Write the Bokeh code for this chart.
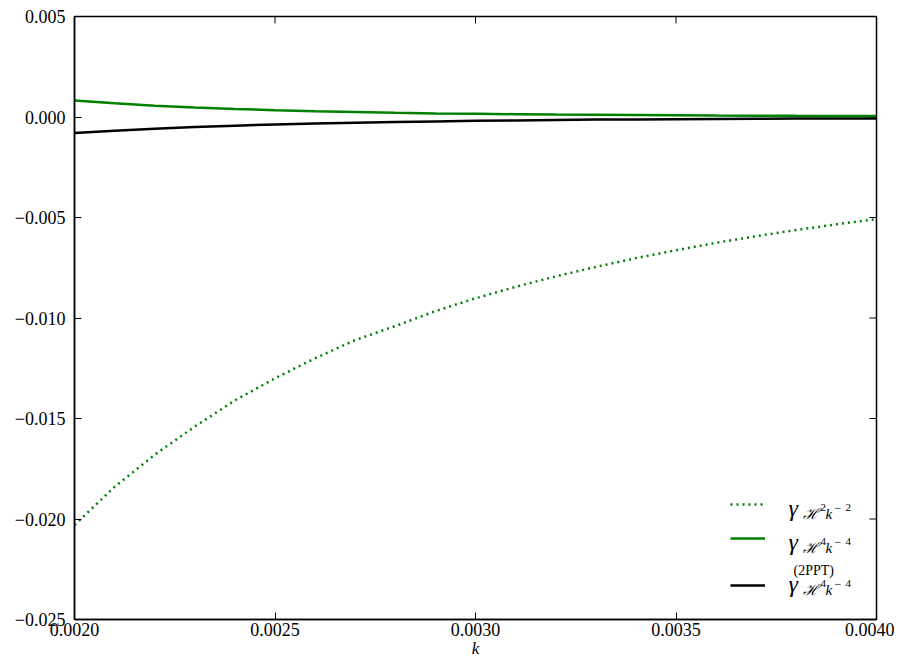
import math
from bokeh.plotting import figure
from bokeh.models import (Legend, LegendItem, Label, FixedTicker,
                          CustomJSTickFormatter, Range1d)
from bokeh.embed import file_html
from bokeh.resources import INLINE

# ---- data ----
k = [0.0020, 0.0021, 0.0022, 0.0023, 0.0024, 0.0025, 0.0026, 0.0027, 0.0028,
     0.0029, 0.0030, 0.0031, 0.0032, 0.0033, 0.0034, 0.0035, 0.0036, 0.0037,
     0.0038, 0.0039, 0.0040]
gamma_H2k2 = [-0.0203, -0.0184, -0.0168, -0.0154, -0.0141, -0.0130, -0.0120,
              -0.0111, -0.0104, -0.00966, -0.00902, -0.00845, -0.00793,
              -0.00746, -0.00702, -0.00663, -0.00626, -0.00593, -0.00562,
              -0.00534, -0.00508]
gamma_H4k4 = [0.00082, 0.00068, 0.00056, 0.00047, 0.00040, 0.00034, 0.00029,
              0.00025, 0.00021, 0.00018, 0.00016, 0.00014, 0.00012, 0.00011,
              0.000095, 0.000085, 0.000075, 0.000068, 0.000060, 0.000055,
              0.000050]
gamma_H4k4_2ppt = [-0.00080, -0.00068, -0.00058, -0.00050, -0.00043, -0.00037,
                   -0.00032, -0.00028, -0.00025, -0.00022, -0.00019, -0.00017,
                   -0.00015, -0.00013, -0.00012, -0.00011, -0.00010, -0.00009,
                   -0.00008, -0.00007, -0.00007]
x_ticks = [0.0020, 0.0025, 0.0030, 0.0035, 0.0040]
y_ticks = [-0.025, -0.020, -0.015, -0.010, -0.005, 0.000, 0.005]
x_min, x_max = 0.0020, 0.0040
y_min, y_max = -0.025, 0.005
x_label = "k"

SERIF = "Liberation Serif"
FL, FT, FR, FB = 74, 16, 876, 619   # frame edges in picture pixels
W, H = 894, 662

p = figure(width=W, height=H, x_range=Range1d(x_min, x_max),
           y_range=Range1d(y_min, y_max), output_backend="svg",
           toolbar_location=None, min_border_left=FL, min_border_right=W - FR,
           min_border_top=FT, min_border_bottom=H - FB)
p.xgrid.visible = False
p.ygrid.visible = False
p.outline_line_color = "black"
p.outline_line_width = 1.5
p.background_fill_color = "white"
p.border_fill_color = "white"

xfmt = CustomJSTickFormatter(code="return tick.toFixed(4);")
yfmt = CustomJSTickFormatter(code="return tick.toFixed(3).replace('-', '\u2212');")


def style_axis(ax, ticks, fmt, standoff):
    ax.ticker = FixedTicker(ticks=ticks)
    ax.formatter = fmt
    ax.axis_line_color = "black"
    ax.axis_line_width = 1.5
    ax.major_tick_in = 7
    ax.major_tick_out = 0
    ax.major_tick_line_color = "black"
    ax.major_tick_line_width = 1
    ax.minor_tick_line_color = None
    ax.major_label_text_font = SERIF
    ax.major_label_text_color = "black"
    ax.major_label_text_font_size = "18px"
    ax.major_label_standoff = standoff


style_axis(p.xaxis[0], x_ticks, xfmt, standoff=3)
style_axis(p.yaxis[0], y_ticks, yfmt, standoff=9)
xa = p.xaxis[0]
xa.axis_label = x_label
xa.axis_label_text_font = SERIF
xa.axis_label_text_font_size = "17px"
xa.axis_label_text_font_style = "italic"
xa.axis_label_text_color = "black"
xa.axis_label_standoff = 0

# inward ticks on the top and right edges (matplotlib classic style)
p.ray(x=x_ticks, y=[y_max] * len(x_ticks), length=7, length_units="screen",
      angle=-math.pi / 2, line_color="black", line_width=1)
p.ray(x=[x_max] * len(y_ticks), y=y_ticks, length=7, length_units="screen",
      angle=math.pi, line_color="black", line_width=1)

r1 = p.line(k, gamma_H2k2, line_color="#008000", line_width=2.5, line_dash="2 4")
r2 = p.line(k, gamma_H4k4, line_color="#008000", line_width=2.5)
r3 = p.line(k, gamma_H4k4_2ppt, line_color="black", line_width=2.5)

for r, ly in [(r1, 504), (r2, 538), (r3, 585)]:
    leg = Legend(items=[LegendItem(label=" ", renderers=[r])],
                 location=(730 - FL, FB - ly - 5), glyph_width=35,
                 glyph_height=10, label_height=10, label_width=1,
                 label_text_font_size="10px", label_standoff=0, padding=0,
                 margin=0, spacing=0, border_line_color=None,
                 background_fill_alpha=0)
    p.add_layout(leg)


def lab(x, y, text, size, style="normal", font=SERIF, align="left"):
    p.add_layout(Label(x=x - FL, y=FB - y, x_units="screen", y_units="screen",
                       text=text, text_font=font, text_font_size=f"{size}px",
                       text_font_style=style, text_baseline="alphabetic",
                       text_align=align, text_color="black"))


rows = [(507, "2"), (541, "4"), (583, "4")]
for gb, e in rows:
    lab(788, gb, "\u03b3", 24, "italic")
    lab(802, gb + 6, "\u210b", 15, "italic", font="DejaVu Serif")
    lab(820, gb, e, 11)
    lab(825, gb + 6, "k", 15, "italic")
    lab(834, gb, "\u2212", 12)
    lab(845, gb, e, 11)
lab(793, 570, "(2PPT)", 14)

open("out.html", "w").write(file_html(p, INLINE))
